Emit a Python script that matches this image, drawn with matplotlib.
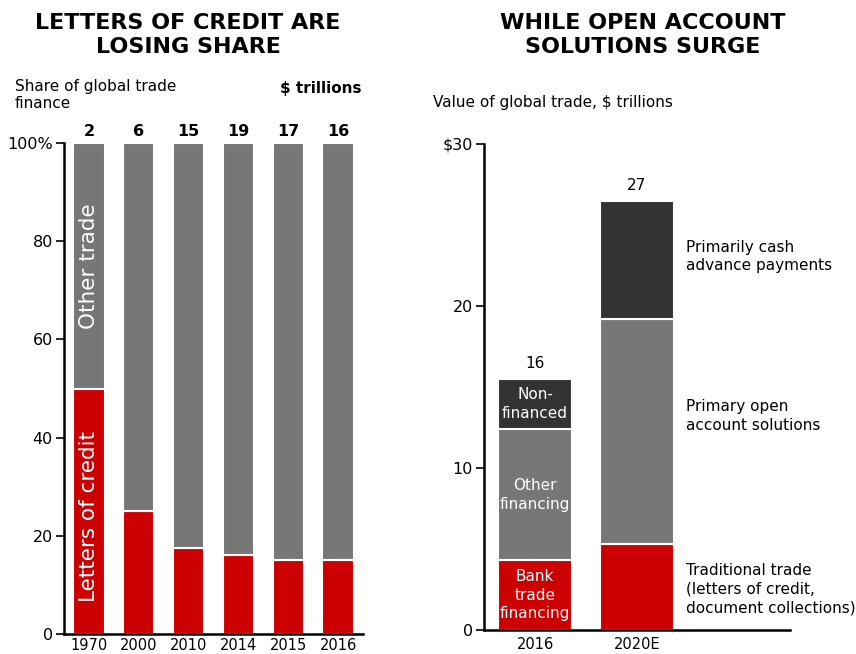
import numpy as np
import matplotlib
matplotlib.use('Agg')
import matplotlib.pyplot as plt

plt.rcParams['font.family'] = 'DejaVu Sans'

# left panel: share of global trade finance
years = ['1970', '2000', '2010', '2014', '2015', '2016']
loc_share = [50, 25, 17.5, 16, 15, 15]
totals = [2, 6, 15, 19, 17, 16]

# right panel: value of global trade
periods = ['2016', '2020E']
trad = [4.3, 5.3]
open_acct = [8.1, 13.9]
cash = [3.1, 7.3]
bar_totals = ['16', '27']

RED = '#cc0000'
GRAY = '#777777'
DARK = '#333333'

fig = plt.figure(figsize=(8.56, 6.54), dpi=100)
W, H = 856., 654.

def add_ax(x0, y0, x1, y1):
    return fig.add_axes([x0 / W, 1 - y1 / H, (x1 - x0) / W, (y1 - y0) / H])

# =============================================================================
# Left chart
# =============================================================================
ax1 = add_ax(64, 143, 363, 634)
x = np.arange(len(years))
other = [100 - v for v in loc_share]
ax1.bar(x, loc_share, width=0.63, color=RED, edgecolor='white', linewidth=1.5)
ax1.bar(x, other, bottom=loc_share, width=0.63, color=GRAY,
        edgecolor='white', linewidth=1.5)
ax1.set_xlim(-0.5, 5.5)
ax1.set_ylim(0, 100)
ax1.set_yticks([0, 20, 40, 60, 80, 100])
ax1.set_yticklabels(['0', '20', '40', '60', '80', '100%'])
ax1.set_xticks(x)
ax1.set_xticklabels(years)
for s in ['top', 'right']:
    ax1.spines[s].set_visible(False)
for s in ['left', 'bottom']:
    ax1.spines[s].set_linewidth(1.8)
ax1.tick_params(axis='y', length=6, width=1.2, labelsize=11.5, pad=2)
ax1.tick_params(axis='x', length=0, labelsize=10.5, pad=3)
for i, t in enumerate(totals):
    ax1.text(x[i], 100.8, str(t), ha='center', va='bottom',
             fontsize=11.5, fontweight='bold')
ax1.text(0, 75, 'Other trade', rotation=90, color='white', fontsize=15.5,
         ha='center', va='center')
ax1.text(0, 24, 'Letters of credit', rotation=90, color='white', fontsize=15.5,
         ha='center', va='center')

fig.text(188 / W, 1 - 35 / H, 'LETTERS OF CREDIT ARE\nLOSING SHARE',
         ha='center', va='center', fontsize=16, fontweight='bold',
         linespacing=1.3)
fig.text(15 / W, 1 - 95 / H, 'Share of global trade\nfinance', ha='left',
         va='center', fontsize=11, linespacing=1.25)
fig.text(362 / W, 1 - 88 / H, '$ trillions', ha='right', va='center',
         fontsize=11, fontweight='bold')

# =============================================================================
# Right chart
# =============================================================================
ax2 = add_ax(484, 144, 790, 630)
xr = np.arange(len(periods))
b2 = np.array(trad) + np.array(open_acct)
ax2.bar(xr, trad, width=0.73, color=RED, edgecolor='white', linewidth=1.5)
ax2.bar(xr, open_acct, bottom=trad, width=0.73, color=GRAY,
        edgecolor='white', linewidth=1.5)
ax2.bar(xr, cash, bottom=b2, width=0.73, color=DARK,
        edgecolor='white', linewidth=1.5)
ax2.set_xlim(-0.5, 2.5)
ax2.set_ylim(0, 30)
ax2.set_yticks([0, 10, 20, 30])
ax2.set_yticklabels(['0', '10', '20', '$30'])
ax2.set_xticks(xr)
ax2.set_xticklabels(periods)
for s in ['top', 'right']:
    ax2.spines[s].set_visible(False)
for s in ['left', 'bottom']:
    ax2.spines[s].set_linewidth(1.8)
ax2.tick_params(axis='y', length=6, width=1.2, labelsize=11.5, pad=2)
ax2.tick_params(axis='x', length=0, labelsize=10.5, pad=5)
for i, t in enumerate(bar_totals):
    ax2.text(xr[i], b2[i] + cash[i] + 0.5, t, ha='center', va='bottom',
             fontsize=11)

ax2.text(0, trad[0] / 2, 'Bank\ntrade\nfinancing', color='white',
         ha='center', va='center', fontsize=11, linespacing=1.3)
ax2.text(0, trad[0] + open_acct[0] / 2, 'Other\nfinancing', color='white',
         ha='center', va='center', fontsize=11, linespacing=1.3)
ax2.text(0, b2[0] + cash[0] / 2, 'Non-\nfinanced', color='white',
         ha='center', va='center', fontsize=11, linespacing=1.3)

ax2.text(1.48, b2[1] + cash[1] / 2 + 0.2, 'Primarily cash\nadvance payments',
         ha='left', va='center', fontsize=11, linespacing=1.3)
ax2.text(1.48, 13.2, 'Primary open\naccount solutions',
         ha='left', va='center', fontsize=11, linespacing=1.3)
ax2.text(1.48, 2.5, 'Traditional trade\n(letters of credit,\ndocument collections)',
         ha='left', va='center', fontsize=11, linespacing=1.3)
for t in ax2.texts[-3:]:
    t.set_clip_on(False)

fig.text(643 / W, 1 - 35 / H, 'WHILE OPEN ACCOUNT\nSOLUTIONS SURGE',
         ha='center', va='center', fontsize=16, fontweight='bold',
         linespacing=1.3)
fig.text(433 / W, 1 - 103 / H, 'Value of global trade, $ trillions',
         ha='left', va='center', fontsize=11)

plt.savefig('out.png', dpi=100)
plt.close()
